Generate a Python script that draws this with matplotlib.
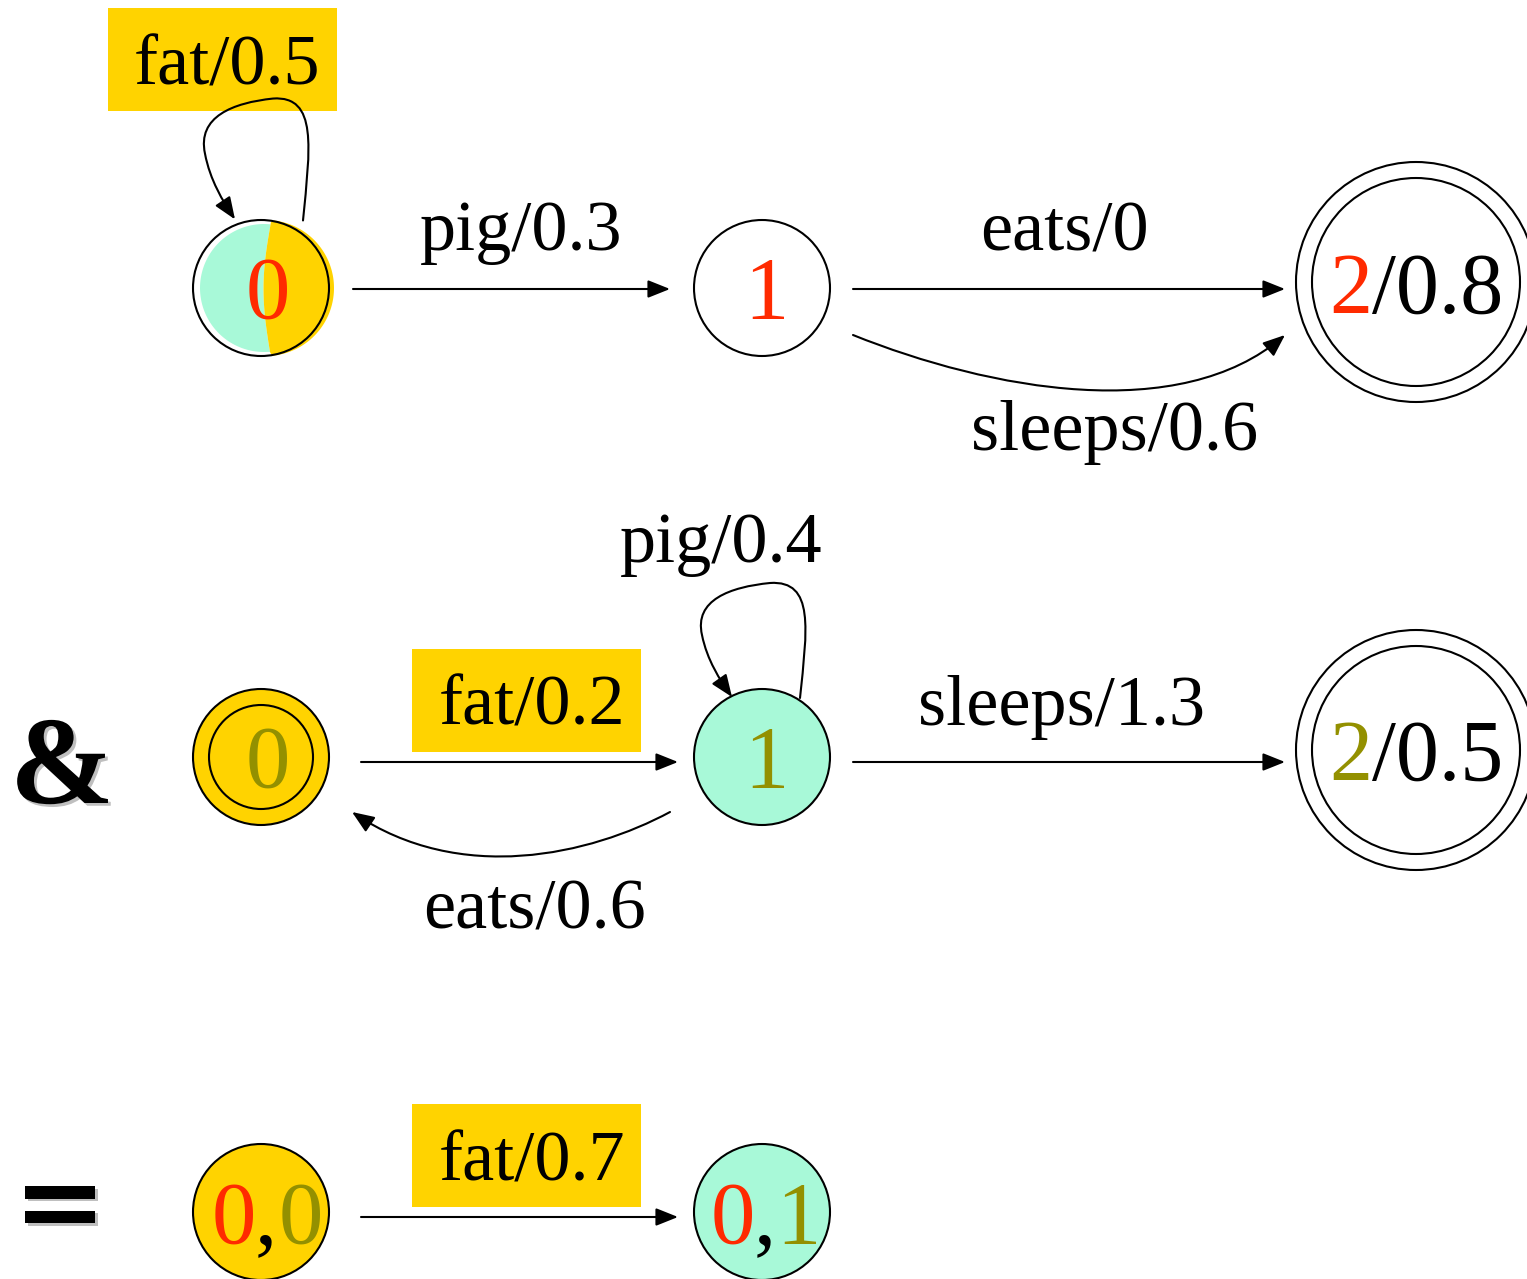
import numpy as np
import matplotlib.pyplot as plt
from matplotlib.patches import Circle, Rectangle, Polygon, FancyArrowPatch
from matplotlib.path import Path
import matplotlib.patheffects as pe

YELLOW = '#FFD300'
MINT = '#A8F9D8'
RED = '#FF2A00'
OLIVE = '#939000'

# ---- diagram content ----
edge_labels = ['pig/0.3', 'eats/0', 'sleeps/0.6', 'pig/0.4', 'sleeps/1.3', 'eats/0.6']
edge_label_xy = [(521, 250), (1064, 250), (1115, 450), (721, 562), (1062, 725), (534, 928)]
boxed_labels = ['fat/0.5', 'fat/0.2', 'fat/0.7']
boxed_xy = [(227, 85), (532, 725), (532, 1180)]
box_rects = [(108, 8, 229, 103), (412, 649, 229, 103), (412, 1104, 229, 103)]

node_r = 68
final_r = (120, 104)

fig = plt.figure(figsize=(15.27, 12.79), dpi=100)
ax = fig.add_axes([0, 0, 1, 1])
ax.set_xlim(0, 1527)
ax.set_ylim(1279, 0)
ax.axis('off')

serif = 'Liberation Serif'
LW = 1.5
HEAD = '-|>,head_length=0.75,head_width=0.3'


def circle(x, y, r, fc='white', lw=LW, z=2):
    ax.add_patch(Circle((x, y), r, fc=fc, ec='black', lw=lw, zorder=z))


def arrow(p0, p1):
    ax.add_patch(FancyArrowPatch(p0, p1, arrowstyle=HEAD, mutation_scale=18, lw=LW,
                                 color='black', shrinkA=0, shrinkB=0, zorder=3))


def curve(pts):
    codes = [Path.MOVETO] + [Path.CURVE4] * (len(pts) - 1)
    ax.add_patch(FancyArrowPatch(path=Path(pts, codes), arrowstyle=HEAD,
                                 mutation_scale=18, lw=LW, color='black', zorder=3))


def self_loop(cx, cy, sy=1.0):
    rel = [(38, -59), (45, -127), (53, -177), (8, -174),
           (-32, -170), (-68, -157), (-60, -122),
           (-55, -97), (-42, -77), (-30, -60)]
    curve([(cx + dx, cy + dy * sy) for dx, dy in rel])


# yellow label boxes
for (x, y, w, h), s, (tx, ty) in zip(box_rects, boxed_labels, boxed_xy):
    ax.add_patch(Rectangle((x, y), w, h, fc=YELLOW, ec='none', zorder=1))
    ax.text(tx, ty, s, ha='center', va='baseline', fontsize=52, family=serif, zorder=4)

for s, (tx, ty) in zip(edge_labels, edge_label_xy):
    ax.text(tx, ty, s, ha='center', va='baseline', fontsize=52, family=serif, zorder=4)

# ---- top machine ----
# state 0: half mint / half yellow, split by a slightly bowed line
s = np.linspace(0, 1, 40)
split = np.c_[270 - 7 * np.sin(np.pi * s) + 1 * s, 352 - 130 * s]
t = np.linspace(np.radians(84), np.radians(274), 80)
arc_l = np.c_[264 + 64 * np.cos(t), 288 - 64 * np.sin(t)]
ax.add_patch(Polygon(np.vstack([arc_l, split]), closed=True, fc=MINT, ec='none', zorder=1.5))
t = np.linspace(np.radians(83), np.radians(-85), 80)
arc_r = np.c_[266 + 68 * np.cos(t), 288 - 68 * np.sin(t)]
ax.add_patch(Polygon(np.vstack([arc_r, split]), closed=True, fc=YELLOW, ec='none', zorder=1.5))
circle(261, 288, node_r, fc='none')
ax.text(268, 318, '0', ha='center', va='baseline', fontsize=64, family=serif, color=RED, zorder=4)

circle(762, 288, node_r)
ax.text(766, 318, '1', ha='center', va='baseline', fontsize=64, family=serif, color=RED, zorder=4)

circle(1416, 282, final_r[0])
circle(1416, 282, final_r[1])
ax.text(1372, 313, '2', ha='right', va='baseline', fontsize=62, family=serif, color=RED, zorder=4)
ax.text(1372, 313, '/0.8', ha='left', va='baseline', fontsize=62, family=serif, zorder=4)

arrow((353, 289), (670, 289))
arrow((853, 289), (1285, 289))
curve([(853, 335), (990, 390), (1180, 425), (1285, 335)])
self_loop(265, 283, sy=1.06)

# ---- middle machine ----
circle(261, 757, node_r, fc=YELLOW)
circle(261, 757, 52, fc='none')
ax.text(268, 787, '0', ha='center', va='baseline', fontsize=64, family=serif, color=OLIVE, zorder=4)

circle(762, 757, node_r, fc=MINT)
ax.text(766, 787, '1', ha='center', va='baseline', fontsize=64, family=serif, color=OLIVE, zorder=4)

circle(1416, 750, final_r[0])
circle(1416, 750, final_r[1])
ax.text(1372, 780, '2', ha='right', va='baseline', fontsize=62, family=serif, color=OLIVE, zorder=4)
ax.text(1372, 780, '/0.5', ha='left', va='baseline', fontsize=62, family=serif, zorder=4)

arrow((361, 762), (678, 762))
arrow((853, 762), (1285, 762))
curve([(670, 812), (590, 855), (460, 885), (352, 812)])
self_loop(762, 757)

# ---- result machine ----
circle(261, 1212, node_r, fc=YELLOW)
ax.text(256, 1243, '0', ha='right', va='baseline', fontsize=64, family=serif, color=RED, zorder=4)
ax.text(266, 1243, ',', ha='center', va='baseline', fontsize=64, family=serif, zorder=4)
ax.text(279, 1243, '0', ha='left', va='baseline', fontsize=64, family=serif, color=OLIVE, zorder=4)

circle(762, 1212, node_r, fc=MINT)
ax.text(755, 1243, '0', ha='right', va='baseline', fontsize=64, family=serif, color=RED, zorder=4)
ax.text(765, 1243, ',', ha='center', va='baseline', fontsize=64, family=serif, zorder=4)
ax.text(776, 1243, '1', ha='left', va='baseline', fontsize=64, family=serif, color=OLIVE, zorder=4)

arrow((361, 1217), (678, 1217))

# operators
shadow = [pe.SimplePatchShadow(offset=(2, -2), shadow_rgbFace='gray', alpha=0.5), pe.Normal()]
ax.text(62, 803, '&', ha='center', va='baseline', fontsize=90, fontweight='bold',
        family=serif, path_effects=shadow)
ax.text(60, 1209, '=', ha='center', va='center', fontsize=80, fontweight='bold',
        family='DejaVu Sans', path_effects=shadow)

fig.savefig('out.png', dpi=100)
